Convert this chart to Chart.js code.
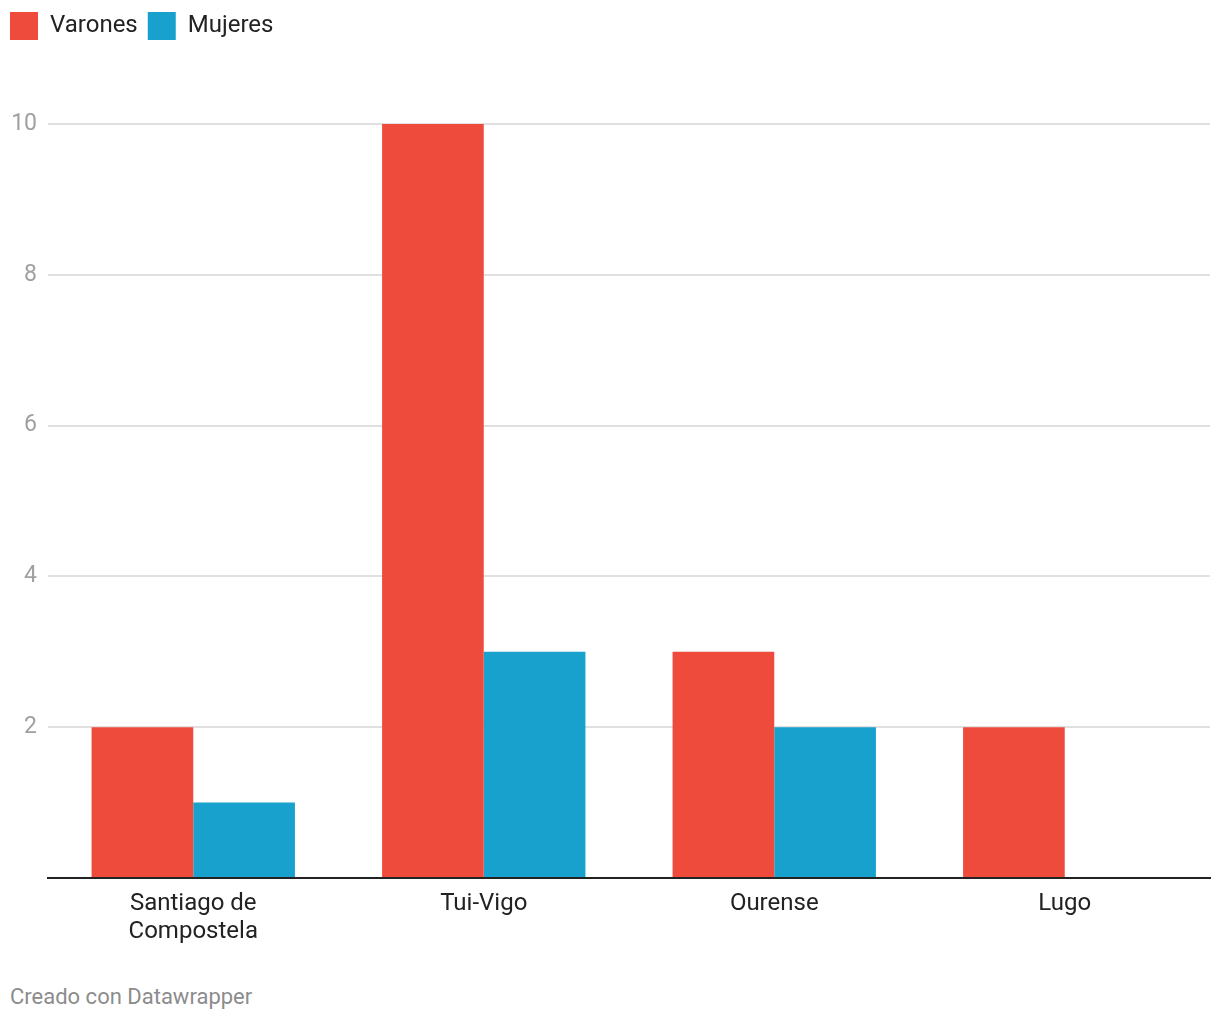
<!DOCTYPE html>
<html>
<head>
<meta charset="utf-8">
<script src="https://cdn.jsdelivr.net/npm/chart.js@4/dist/chart.umd.min.js"></script>
<style>
  body { margin: 0; background: #fff; font-family: Roboto, sans-serif; }
  #wrap { position: relative; width: 1220px; height: 960px; }
  #foot { position: absolute; left: 10px; top: 984px; font-size: 22px; color: #8c8c8c; }
</style>
</head>
<body>
<div id="wrap"><canvas id="chart"></canvas></div>
<div id="foot">Creado con Datawrapper</div>
<script>
const categories = [["Santiago de", "Compostela"], "Tui-Vigo", "Ourense", "Lugo"];
const varones = [2, 10, 3, 2];
const mujeres = [1, 3, 2, 0];
const yTicks = [2, 4, 6, 8, 10];

const legendHeight = {
    id: "legendHeight",
    beforeInit(chart) {
        const origFit = chart.legend.fit;
        chart.legend.fit = function () {
            origFit.call(this);
            this.height = 122;
        };
    }
};

new Chart(document.getElementById("chart"), {
    type: "bar",
    data: {
        labels: categories,
        datasets: [
            { label: "Varones", data: varones, backgroundColor: "#ef4b3c" },
            { label: "Mujeres", data: mujeres, backgroundColor: "#18a1cd" }
        ]
    },
    options: {
        responsive: true,
        maintainAspectRatio: false,
        animation: false,
        layout: { padding: { left: 0, right: 10, top: 2, bottom: 0 } },
        datasets: { bar: { categoryPercentage: 0.7, barPercentage: 1.0 } },
        plugins: {
            legend: {
                position: "top",
                align: "start",
                labels: {
                    boxWidth: 28,
                    boxHeight: 28,
                    padding: 10,
                    color: "#222",
                    font: { family: "Roboto", size: 24 }
                }
            },
            tooltip: { enabled: false }
        },
        scales: {
            x: {
                grid: { display: false },
                border: { color: "#222", width: 2 },
                ticks: {
                    color: "#222",
                    padding: 4,
                    font: { family: "Roboto", size: 24, lineHeight: 1.17 },
                    maxRotation: 0
                },
                afterFit(scale) { scale.height = 82; }
            },
            y: {
                min: 0,
                max: 10,
                border: { display: false },
                grid: {
                    drawTicks: false,
                    color: ctx => ctx.tick && ctx.tick.value === 0 ? "rgba(0,0,0,0)" : "#e0e0e0",
                    lineWidth: 2
                },
                afterBuildTicks(scale) {
                    scale.ticks = [0].concat(yTicks).map(v => ({ value: v }));
                },
                ticks: {
                    color: "#a0a0a0",
                    padding: 11,
                    font: { family: "Roboto", size: 23 },
                    callback: v => v === 0 ? "" : v
                },
                afterFit(scale) { scale.width = 48; }
            }
        }
    },
    plugins: [legendHeight]
});
</script>
</body>
</html>
